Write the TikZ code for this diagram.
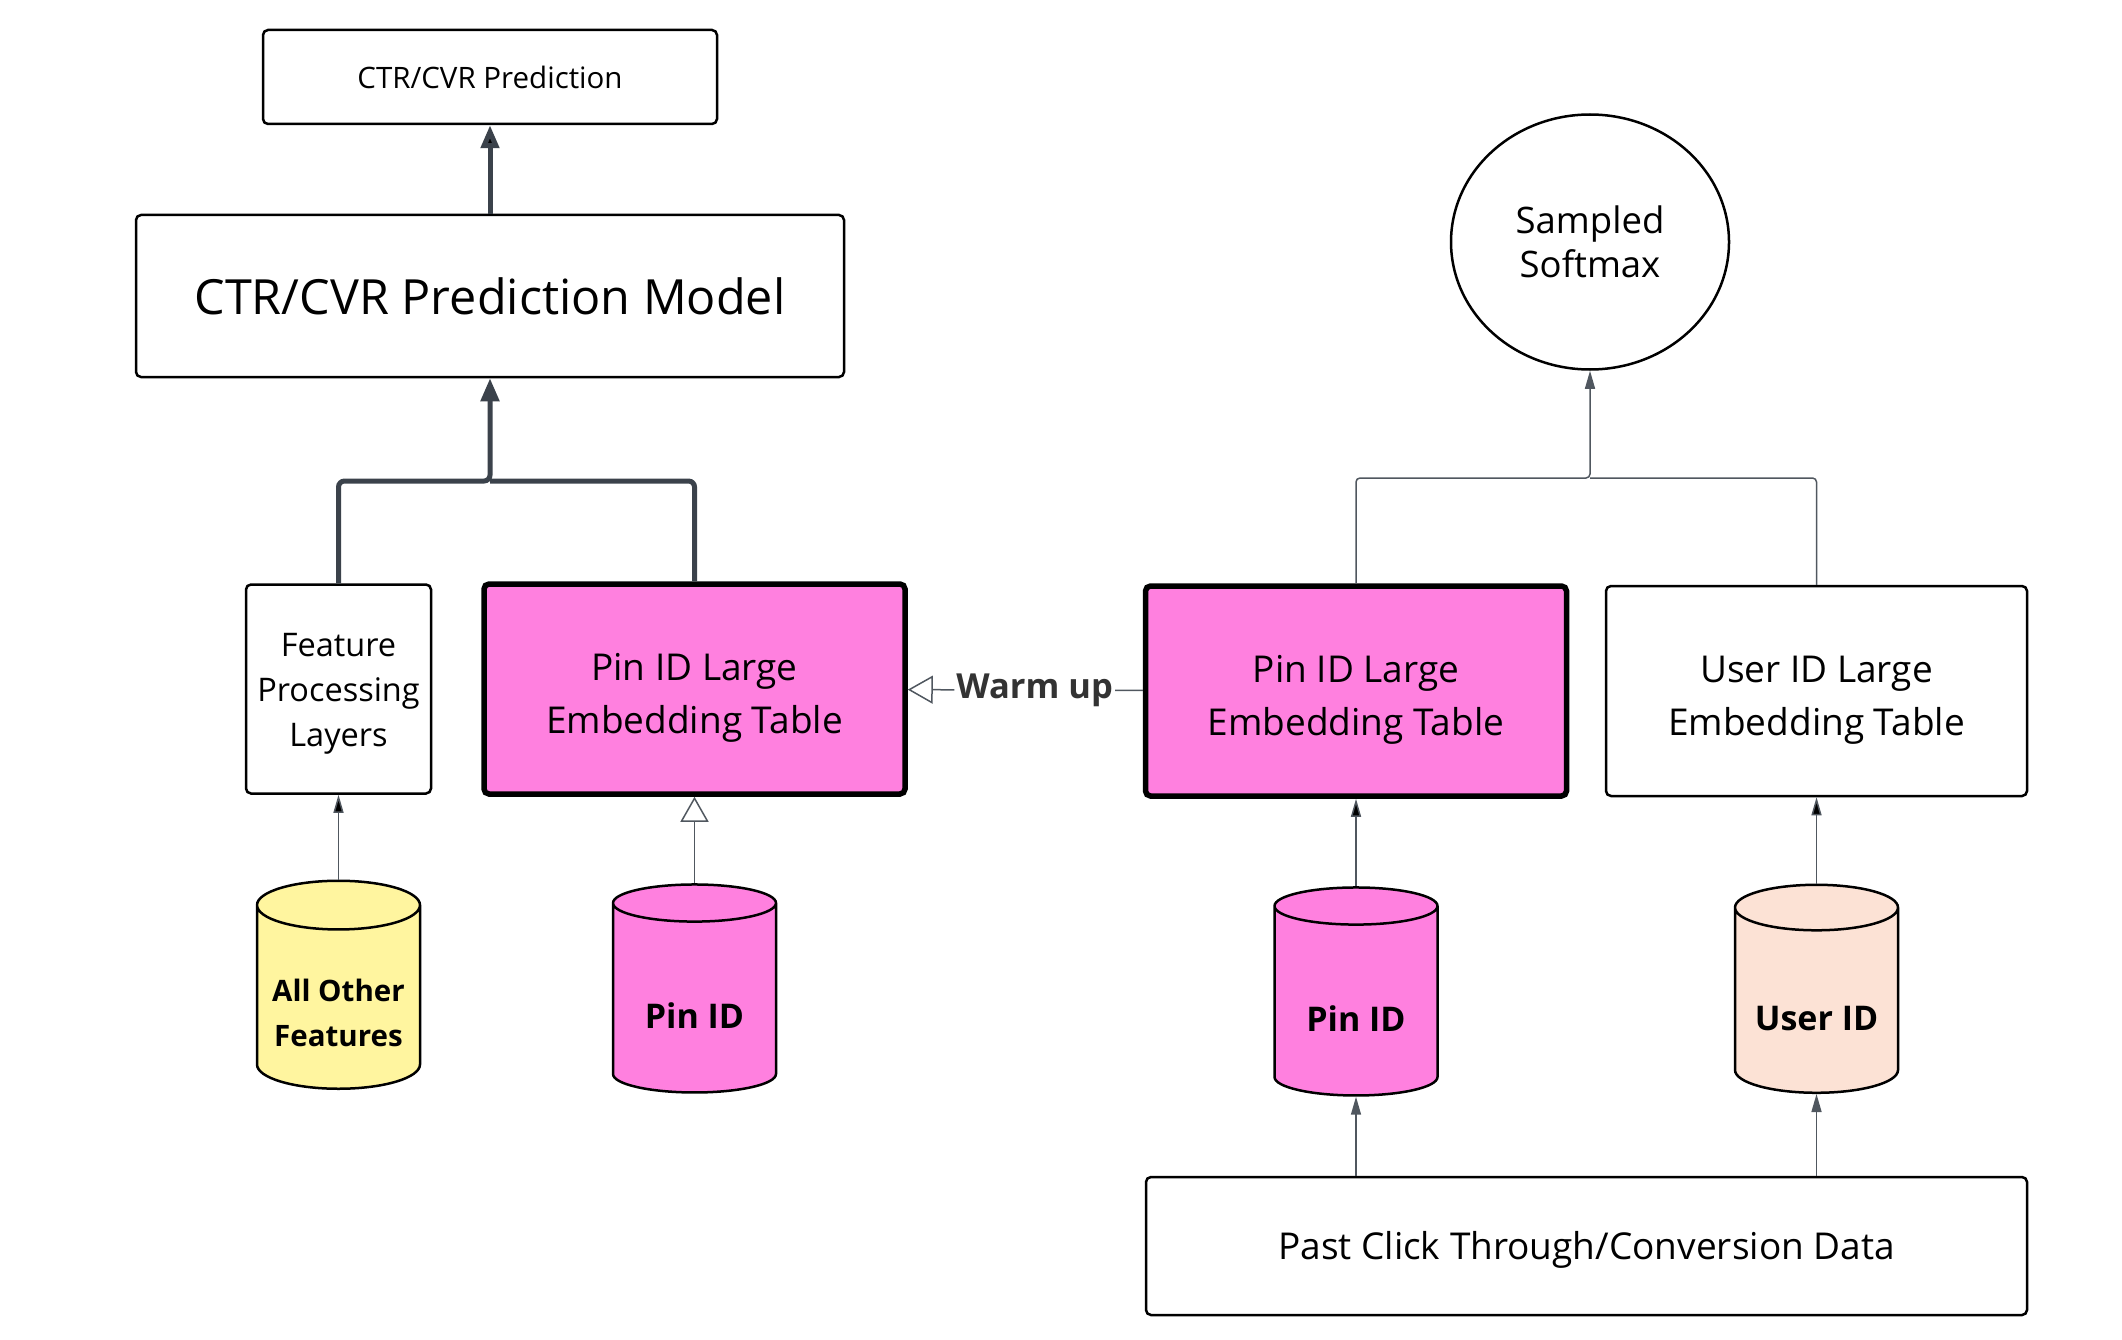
\documentclass[tikz,border=0pt]{standalone}
\usepackage{fontspec}
\setmainfont{Open Sans}
\usepackage{tikz}
\usetikzlibrary{arrows.meta,shapes.geometric,positioning}
\definecolor{pinpink}{HTML}{FF80DF}
\definecolor{featyellow}{HTML}{FFF59F}
\definecolor{userpeach}{HTML}{FCE2D5}
\definecolor{linkgray}{HTML}{50575F}
\definecolor{linkdark}{HTML}{3B424B}
\definecolor{warmgray}{HTML}{333333}
\newcommand{\lift}[1]{\rule{0pt}{#1pt}}

\begin{document}
\begin{tikzpicture}[x=1pt,y=-1pt,>={Triangle[length=18pt,width=10pt]},
                    node distance=312]
  \tikzstyle{box}=[draw=black,line width=2.5pt,rounded corners=5pt,fill=white,align=center]
  \tikzstyle{table}=[box,line width=5.5pt,fill=pinpink,minimum width=421,minimum height=210,
                     font=\fontsize{37}{53}\selectfont]
  \tikzstyle{db}=[cylinder,shape border rotate=90,aspect=0.35,draw=black,line width=2.5pt,
                  minimum width=163,minimum height=208,align=center,
                  font=\bfseries\fontsize{34}{45}\selectfont,execute at begin node=\lift{54}]
  \tikzstyle{link}=[->,draw=linkgray,line width=1.5pt,rounded corners=4pt]
  \tikzstyle{bus}=[->,draw=linkdark,line width=5pt,rounded corners=6pt,
                   >={Triangle[length=23pt,width=18pt]}]
  \tikzstyle{hollow}=[-{Triangle[open,length=25pt,width=28pt]}]

  \useasboundingbox (0,0) rectangle (2122,1340);

  % left: prediction model
  \node[box,minimum width=454,minimum height=94,font=\fontsize{29.5}{36}\selectfont] (pred) at (490,77) {CTR/CVR Prediction};
  \node[box,minimum width=708,minimum height=162,font=\fontsize{48.5}{58}\selectfont] (model) [below of=pred,node distance=219] {CTR/CVR Prediction Model};
  \node[box,minimum width=185,minimum height=209,font=\fontsize{32.5}{45}\selectfont] (feat) at (338.5,689) {\lift{32}Feature\\Processing\\Layers};
  \node[table] (pinL) [right of=feat,node distance=356] {\lift{44}Pin ID Large\\Embedding Table};
  \node[db,fill=featyellow,font=\bfseries\fontsize{29.5}{45}\selectfont] (other) [below of=feat] {\lift{46.5}All Other\\Features};
  \node[db,fill=pinpink] (pinLdb) [below of=pinL] {Pin ID};

  % right: sampled softmax training
  \node[draw=black,line width=2.5pt,ellipse,minimum width=278,minimum height=255,align=center,
        font=\fontsize{36.5}{44}\selectfont] (soft) at (1590,242) {Sampled\\Softmax};
  \node[table] (pinR) at (1356,691) {\lift{44}Pin ID Large\\Embedding Table};
  \node[table,line width=2.5pt,fill=white] (userE) [right of=pinR,node distance=460.5] {\lift{44}User ID Large\\Embedding Table};
  \node[db,fill=pinpink] (pinRdb) [below of=pinR,node distance=313] {Pin ID};
  \node[db,fill=userpeach] (userdb) [below of=userE,node distance=313] {User ID};
  \node[box,minimum width=881,minimum height=138,font=\fontsize{37}{44}\selectfont] (past) at (1586.5,1246) {\lift{35}Past Click Through/Conversion Data};

  % thick joins into the model
  \coordinate (jL) at (490,481);
  \draw[bus] (feat.north) |- (jL) -- (model.south);
  \draw[bus,-] (pinL.north) |- (jL);
  \path[bus] (model) edge (pred);

  % thin joins into the softmax
  \coordinate (jR) at (1590,478);
  \draw[link] (pinR.north) |- (jR) -- (soft.south);
  \draw[link,-] (userE.north) |- (jR);

  \path[link] (other) edge (feat)
              (pinRdb) edge (pinR)
              (userdb) edge (userE);
  \draw[link] (pinRdb.south |- past.north) -- (pinRdb.south);
  \draw[link] (userdb.south |- past.north) -- (userdb.south);
  \path[link,hollow] (pinLdb) edge (pinL)
              (pinR) edge node[pos=0.46,fill=white,inner sep=2pt,text=warmgray,
                               font=\bfseries\fontsize{34.5}{42}\selectfont] {Warm up} (pinL);
\end{tikzpicture}
\end{document}
